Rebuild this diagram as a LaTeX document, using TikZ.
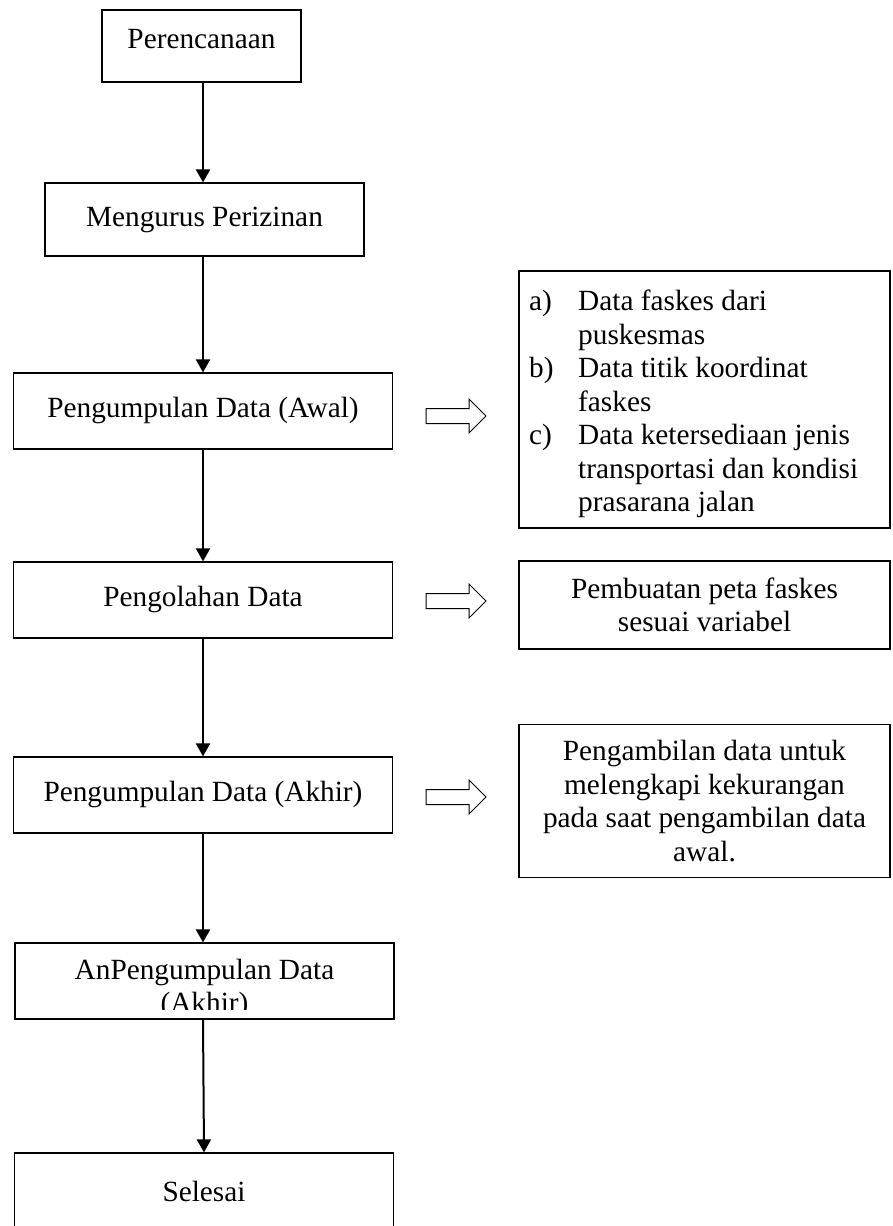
\documentclass[tikz,border=0pt]{standalone}
\usepackage{fontspec}
\setmainfont{Liberation Serif}
\usetikzlibrary{positioning,arrows.meta}
\tikzset {
    style A/.style={
        draw=black,
        line width=1.2pt,
        rectangle, % Set the shape as a rectangle
        inner sep=0pt,
        minimum width=379pt,
        minimum height=76pt,
        text height=20pt,
        text depth=7pt,
        align=center,
    },
    style B/.style={
        draw=black,
        line width=1.2pt,
        rectangle, % Set the shape as a rectangle
        inner sep=0pt,
        minimum width=371pt,
        align=center,
    },
    flow/.style={line width=2pt, -{Triangle[width=14pt,length=13pt]}},
    open arrow/.style={draw=black, line width=1pt, line join=miter},
}
\begin{document}
\begin{tikzpicture}
[x=1pt, y=-1pt, font=\fontsize{29.3}{33.5}\selectfont]
\useasboundingbox (0,0) rectangle (892,1226);

\node[style A, minimum width=199pt, minimum height=72pt, text depth=14.6pt] at (201.5, 46) (plan) {Perencanaan};
\node[style A, minimum width=319pt, minimum height=73pt] at (204.5, 219.5) (izin) {Mengurus Perizinan};
\node[style A] at (203, 411) (awal) {Pengumpulan Data (Awal)};
\node[style A] at (203, 600) (olah) {Pengolahan Data};
\node[style A] at (203, 795) (akhir) {Pengumpulan Data (Akhir)};
\node[style A] at (204.5, 981) (analisis) {};
\node[style A, minimum height=84pt] at (204, 1195) (selesai) {Selesai};

% text of the analysis box is cut off at the bottom
\begin{scope}
\clip (15, 943) rectangle (394, 1009);
\node[draw=none, align=center] at (204.5, 989) (analisisText) {AnPengumpulan Data\\(Akhir)};
\end{scope}

\node[style B, minimum height=257pt] at (704.5, 399.5) (dataAwal) {};
\node[draw=none, inner sep=0pt, anchor=north west] at (529, 287) (dataList) {%
\begin{tabular}{@{}p{49pt}@{}l@{}}
a) & Data faskes dari\\
   & puskesmas\\
b) & Data titik koordinat\\
   & faskes\\
c) & Data ketersediaan jenis\\
   & transportasi dan kondisi\\
   & prasarana jalan
\end{tabular}};
\node[style B, minimum height=88pt] at (704.5, 605) (peta) {Pembuatan peta faskes\\sesuai variabel};
\node[style B, minimum height=153pt] at (704.5, 801) (lengkap) {Pengambilan data untuk\\melengkapi kekurangan\\pada saat pengambilan data\\awal.};

\coordinate (arrAwal) at (426, 416);
\coordinate (arrOlah) at (426, 601);
\coordinate (arrAkhir) at (426, 797);

\draw[flow] (plan.south -| 203,0) -- (izin.north -| 203,0);
\draw[flow] (izin.south -| 203,0) -- (awal.north);
\draw[flow] (awal) -- (olah);
\draw[flow] (olah) -- (akhir);
\draw[flow] (akhir.south) -- (analisis.north -| 203,0);
\draw[flow] (analisis.south -| 203,0) -- (selesai.north -| 204,0);

\draw[open arrow] (arrAwal) ++(0,-7.5) -- ++(43,0) -- ++(0,-9.5) -- ++(17,17) -- ++(-17,17) -- ++(0,-9.5) -- ++(-43,0) -- cycle;
\draw[open arrow] (arrOlah) ++(0,-7.5) -- ++(43,0) -- ++(0,-9.5) -- ++(17,17) -- ++(-17,17) -- ++(0,-9.5) -- ++(-43,0) -- cycle;
\draw[open arrow] (arrAkhir) ++(0,-7.5) -- ++(43,0) -- ++(0,-9.5) -- ++(17,17) -- ++(-17,17) -- ++(0,-9.5) -- ++(-43,0) -- cycle;
\end{tikzpicture}
\end{document}
